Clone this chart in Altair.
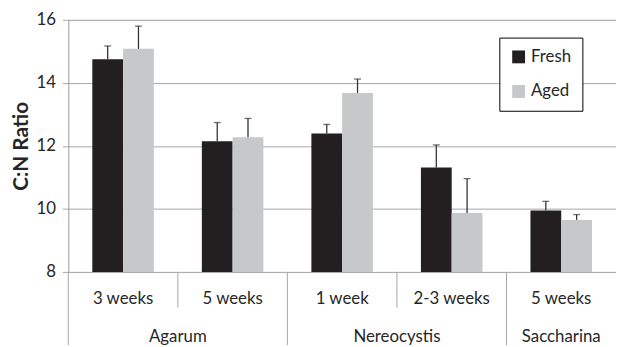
import altair as alt
import pandas as pd

species = ["Agarum", "Agarum", "Nereocystis", "Nereocystis", "Saccharina"]
ages = ["3 weeks", "5 weeks", "1 week", "2-3 weeks", "5 weeks"]
fresh = [14.75, 12.15, 12.39, 11.31, 9.95]
fresh_err = [0.42, 0.59, 0.29, 0.72, 0.29]
aged = [15.08, 12.27, 13.68, 9.87, 9.65]
aged_err = [0.72, 0.60, 0.44, 1.09, 0.17]
series = ["Fresh", "Aged"]
groups = ["Agarum", "Nereocystis", "Saccharina"]
y_ticks = [8, 10, 12, 14, 16]

keys = [f"{s}|{a}" for s, a in zip(species, ages)]
rows = []
for k, f, fe, ag, ae in zip(keys, fresh, fresh_err, aged, aged_err):
    rows.append(dict(key=k, series="Fresh", value=f, top=f + fe))
    rows.append(dict(key=k, series="Aged", value=ag, top=ag + ae))
df = pd.DataFrame(rows)

first_key = [keys[species.index(g)] for g in groups]
span = [species.count(g) for g in groups]
gdf = pd.DataFrame({"group": groups, "first": first_key, "span": span})
ldf = pd.DataFrame({"key": keys, "age": ages})
sub_sep = pd.DataFrame({"key": [k for i, k in enumerate(keys) if i > 0 and species[i] == species[i - 1]]})

W, H = 554, 255
FONT = "Lato"
TXT = "#262626"
GRID = "#a6a6a6"

xscale = alt.Scale(domain=keys, paddingInner=0, paddingOuter=0)
xoff = alt.XOffset("series:N", scale=alt.Scale(domain=series, paddingInner=0, paddingOuter=0.78), sort=series)
X = alt.X("key:N", scale=xscale, axis=None, sort=keys)
yscale = alt.Scale(domain=[8, 16], zero=False, nice=False)

bars = alt.Chart(df).mark_bar().encode(
    x=X,
    xOffset=xoff,
    y=alt.Y("value:Q", scale=yscale, title="C:N Ratio",
            axis=alt.Axis(values=y_ticks, grid=True, gridColor=GRID, domainColor=GRID,
                          tickColor=GRID, tickSize=6, labelFont=FONT, labelFontSize=17,
                          labelColor=TXT, labelPadding=7, titleFont=FONT, titleFontSize=21,
                          titleFontWeight="bold", titleColor=TXT, titleAngle=270,
                          titleX=-41, titleY=H / 2, titleAlign="center", titleBaseline="alphabetic")),
    y2=alt.datum(8),
    color=alt.Color("series:N", sort=series,
                    scale=alt.Scale(domain=series, range=["#231f20", "#c7c8ca"]),
                    legend=alt.Legend(orient="none", legendX=436, legendY=18, title=None,
                                      strokeColor="black", fillColor="white", padding=11,
                                      symbolType="square", symbolSize=169, symbolStrokeWidth=0,
                                      labelFont=FONT, labelFontSize=17, labelColor=TXT,
                                      rowPadding=17, labelOffset=4)),
)

err = alt.Chart(df).mark_rule(color="#333333", strokeWidth=1.3).encode(
    x=X, xOffset=xoff, y=alt.Y("value:Q", scale=yscale), y2="top:Q")
caps = alt.Chart(df).mark_tick(color="#333333", thickness=1.3, size=7).encode(
    x=X, xOffset=xoff, y=alt.Y("top:Q", scale=yscale))

sub_labels = alt.Chart(ldf).mark_text(font=FONT, fontSize=17, color=TXT, baseline="middle").encode(
    x=X, y=alt.value(H + 27), text="age:N")
g2 = alt.Chart(gdf).transform_filter("datum.span == 2").mark_text(
    font=FONT, fontSize=17, color=TXT, baseline="middle").encode(
    x=alt.X("first:N", scale=xscale, axis=None, sort=keys, bandPosition=1),
    y=alt.value(H + 66), text="group:N")
g1 = alt.Chart(gdf).transform_filter("datum.span == 1").mark_text(
    font=FONT, fontSize=17, color=TXT, baseline="middle").encode(
    x=alt.X("first:N", scale=xscale, axis=None, sort=keys, bandPosition=0.5),
    y=alt.value(H + 66), text="group:N")
sep_sub = alt.Chart(sub_sep).mark_rule(color=GRID, strokeWidth=1).encode(
    x=alt.X("key:N", scale=xscale, axis=None, sort=keys, bandPosition=0),
    y=alt.value(H), y2=alt.value(H + 36))
sep_grp = alt.Chart(gdf).mark_rule(color=GRID, strokeWidth=1).encode(
    x=alt.X("first:N", scale=xscale, axis=None, sort=keys, bandPosition=0),
    y=alt.value(H), y2=alt.value(H + 74))

chart = alt.layer(bars, err, caps, sub_labels, g2, g1, sep_sub, sep_grp).properties(
    width=W, height=H,
    padding={"left": 61, "top": 10, "right": 0, "bottom": 74},
    autosize=alt.AutoSizeParams(type="none"),
).configure_view(strokeWidth=0).configure(background="white")

chart.save("out.html", embed_options={"renderer": "svg", "actions": False})
